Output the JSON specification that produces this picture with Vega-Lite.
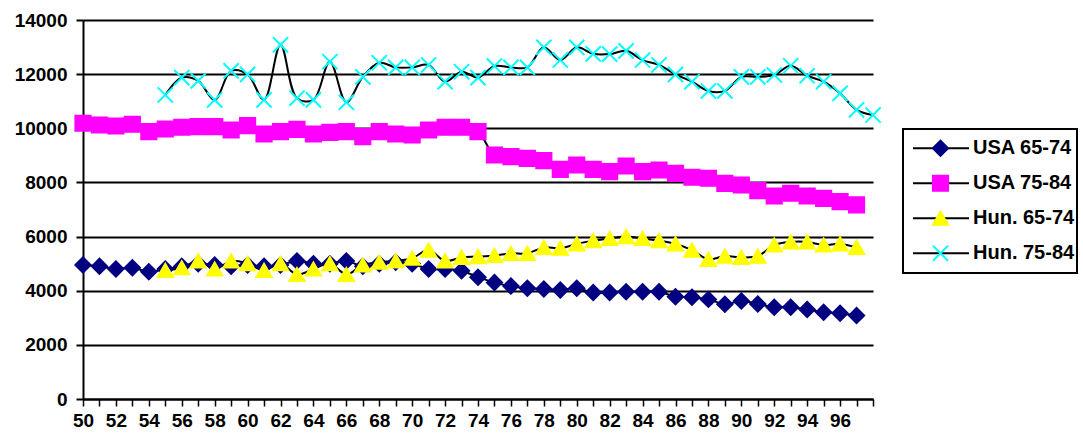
{
  "$schema": "https://vega.github.io/schema/vega-lite/v6.json",
  "width": 790,
  "height": 379,
  "autosize": {"type": "none"},
  "padding": {"left": 83, "top": 20, "right": 210, "bottom": 39},
  "background": "white",
  "config": {"view": {"stroke": null}, "font": "Liberation Sans"},
  "data": {"values": [
    {"year":50,"series":"USA 65-74","value":4950},{"year":51,"series":"USA 65-74","value":4900},{"year":52,"series":"USA 65-74","value":4800},{"year":53,"series":"USA 65-74","value":4850},{"year":54,"series":"USA 65-74","value":4700},{"year":55,"series":"USA 65-74","value":4800},{"year":56,"series":"USA 65-74","value":4900},{"year":57,"series":"USA 65-74","value":5000},{"year":58,"series":"USA 65-74","value":4950},{"year":59,"series":"USA 65-74","value":4900},{"year":60,"series":"USA 65-74","value":4950},{"year":61,"series":"USA 65-74","value":4900},{"year":62,"series":"USA 65-74","value":4950},{"year":63,"series":"USA 65-74","value":5100},{"year":64,"series":"USA 65-74","value":5000},{"year":65,"series":"USA 65-74","value":5000},{"year":66,"series":"USA 65-74","value":5100},{"year":67,"series":"USA 65-74","value":4900},{"year":68,"series":"USA 65-74","value":5000},{"year":69,"series":"USA 65-74","value":5050},{"year":70,"series":"USA 65-74","value":5000},{"year":71,"series":"USA 65-74","value":4800},{"year":72,"series":"USA 65-74","value":4800},{"year":73,"series":"USA 65-74","value":4740},{"year":74,"series":"USA 65-74","value":4500},{"year":75,"series":"USA 65-74","value":4300},{"year":76,"series":"USA 65-74","value":4170},{"year":77,"series":"USA 65-74","value":4090},{"year":78,"series":"USA 65-74","value":4060},{"year":79,"series":"USA 65-74","value":4030},{"year":80,"series":"USA 65-74","value":4090},{"year":81,"series":"USA 65-74","value":3930},{"year":82,"series":"USA 65-74","value":3930},{"year":83,"series":"USA 65-74","value":3960},{"year":84,"series":"USA 65-74","value":3960},{"year":85,"series":"USA 65-74","value":3960},{"year":86,"series":"USA 65-74","value":3780},{"year":87,"series":"USA 65-74","value":3760},{"year":88,"series":"USA 65-74","value":3680},{"year":89,"series":"USA 65-74","value":3500},{"year":90,"series":"USA 65-74","value":3620},{"year":91,"series":"USA 65-74","value":3510},{"year":92,"series":"USA 65-74","value":3390},{"year":93,"series":"USA 65-74","value":3390},{"year":94,"series":"USA 65-74","value":3310},{"year":95,"series":"USA 65-74","value":3200},{"year":96,"series":"USA 65-74","value":3170},{"year":97,"series":"USA 65-74","value":3080},
    {"year":50,"series":"USA 75-84","value":10185},{"year":51,"series":"USA 75-84","value":10122},{"year":52,"series":"USA 75-84","value":10085},{"year":53,"series":"USA 75-84","value":10148},{"year":54,"series":"USA 75-84","value":9875},{"year":55,"series":"USA 75-84","value":9974},{"year":56,"series":"USA 75-84","value":10037},{"year":57,"series":"USA 75-84","value":10061},{"year":58,"series":"USA 75-84","value":10061},{"year":59,"series":"USA 75-84","value":9937},{"year":60,"series":"USA 75-84","value":10098},{"year":61,"series":"USA 75-84","value":9790},{"year":62,"series":"USA 75-84","value":9875},{"year":63,"series":"USA 75-84","value":9962},{"year":64,"series":"USA 75-84","value":9790},{"year":65,"series":"USA 75-84","value":9852},{"year":66,"series":"USA 75-84","value":9875},{"year":67,"series":"USA 75-84","value":9690},{"year":68,"series":"USA 75-84","value":9875},{"year":69,"series":"USA 75-84","value":9790},{"year":70,"series":"USA 75-84","value":9753},{"year":71,"series":"USA 75-84","value":9937},{"year":72,"series":"USA 75-84","value":10037},{"year":73,"series":"USA 75-84","value":10037},{"year":74,"series":"USA 75-84","value":9875},{"year":75,"series":"USA 75-84","value":9013},{"year":76,"series":"USA 75-84","value":8951},{"year":77,"series":"USA 75-84","value":8891},{"year":78,"series":"USA 75-84","value":8803},{"year":79,"series":"USA 75-84","value":8485},{"year":80,"series":"USA 75-84","value":8644},{"year":81,"series":"USA 75-84","value":8485},{"year":82,"series":"USA 75-84","value":8398},{"year":83,"series":"USA 75-84","value":8607},{"year":84,"series":"USA 75-84","value":8398},{"year":85,"series":"USA 75-84","value":8459},{"year":86,"series":"USA 75-84","value":8337},{"year":87,"series":"USA 75-84","value":8190},{"year":88,"series":"USA 75-84","value":8153},{"year":89,"series":"USA 75-84","value":7968},{"year":90,"series":"USA 75-84","value":7905},{"year":91,"series":"USA 75-84","value":7695},{"year":92,"series":"USA 75-84","value":7500},{"year":93,"series":"USA 75-84","value":7599},{"year":94,"series":"USA 75-84","value":7500},{"year":95,"series":"USA 75-84","value":7414},{"year":96,"series":"USA 75-84","value":7290},{"year":97,"series":"USA 75-84","value":7168},
    {"year":55,"series":"Hun. 65-74","value":4750},{"year":56,"series":"Hun. 65-74","value":4850},{"year":57,"series":"Hun. 65-74","value":5100},{"year":58,"series":"Hun. 65-74","value":4800},{"year":59,"series":"Hun. 65-74","value":5100},{"year":60,"series":"Hun. 65-74","value":5000},{"year":61,"series":"Hun. 65-74","value":4750},{"year":62,"series":"Hun. 65-74","value":5000},{"year":63,"series":"Hun. 65-74","value":4600},{"year":64,"series":"Hun. 65-74","value":4800},{"year":65,"series":"Hun. 65-74","value":5000},{"year":66,"series":"Hun. 65-74","value":4600},{"year":67,"series":"Hun. 65-74","value":4950},{"year":68,"series":"Hun. 65-74","value":5050},{"year":69,"series":"Hun. 65-74","value":5100},{"year":70,"series":"Hun. 65-74","value":5200},{"year":71,"series":"Hun. 65-74","value":5500},{"year":72,"series":"Hun. 65-74","value":5100},{"year":73,"series":"Hun. 65-74","value":5230},{"year":74,"series":"Hun. 65-74","value":5260},{"year":75,"series":"Hun. 65-74","value":5300},{"year":76,"series":"Hun. 65-74","value":5380},{"year":77,"series":"Hun. 65-74","value":5380},{"year":78,"series":"Hun. 65-74","value":5600},{"year":79,"series":"Hun. 65-74","value":5570},{"year":80,"series":"Hun. 65-74","value":5730},{"year":81,"series":"Hun. 65-74","value":5850},{"year":82,"series":"Hun. 65-74","value":5930},{"year":83,"series":"Hun. 65-74","value":6000},{"year":84,"series":"Hun. 65-74","value":5930},{"year":85,"series":"Hun. 65-74","value":5850},{"year":86,"series":"Hun. 65-74","value":5730},{"year":87,"series":"Hun. 65-74","value":5500},{"year":88,"series":"Hun. 65-74","value":5160},{"year":89,"series":"Hun. 65-74","value":5280},{"year":90,"series":"Hun. 65-74","value":5230},{"year":91,"series":"Hun. 65-74","value":5280},{"year":92,"series":"Hun. 65-74","value":5690},{"year":93,"series":"Hun. 65-74","value":5800},{"year":94,"series":"Hun. 65-74","value":5800},{"year":95,"series":"Hun. 65-74","value":5690},{"year":96,"series":"Hun. 65-74","value":5730},{"year":97,"series":"Hun. 65-74","value":5600},
    {"year":55,"series":"Hun. 75-84","value":11230},{"year":56,"series":"Hun. 75-84","value":11870},{"year":57,"series":"Hun. 75-84","value":11750},{"year":58,"series":"Hun. 75-84","value":11050},{"year":59,"series":"Hun. 75-84","value":12120},{"year":60,"series":"Hun. 75-84","value":11990},{"year":61,"series":"Hun. 75-84","value":11050},{"year":62,"series":"Hun. 75-84","value":13080},{"year":63,"series":"Hun. 75-84","value":11110},{"year":64,"series":"Hun. 75-84","value":11050},{"year":65,"series":"Hun. 75-84","value":12460},{"year":66,"series":"Hun. 75-84","value":10960},{"year":67,"series":"Hun. 75-84","value":11900},{"year":68,"series":"Hun. 75-84","value":12420},{"year":69,"series":"Hun. 75-84","value":12250},{"year":70,"series":"Hun. 75-84","value":12250},{"year":71,"series":"Hun. 75-84","value":12340},{"year":72,"series":"Hun. 75-84","value":11720},{"year":73,"series":"Hun. 75-84","value":12090},{"year":74,"series":"Hun. 75-84","value":11870},{"year":75,"series":"Hun. 75-84","value":12300},{"year":76,"series":"Hun. 75-84","value":12250},{"year":77,"series":"Hun. 75-84","value":12250},{"year":78,"series":"Hun. 75-84","value":12990},{"year":79,"series":"Hun. 75-84","value":12520},{"year":80,"series":"Hun. 75-84","value":12990},{"year":81,"series":"Hun. 75-84","value":12750},{"year":82,"series":"Hun. 75-84","value":12740},{"year":83,"series":"Hun. 75-84","value":12860},{"year":84,"series":"Hun. 75-84","value":12520},{"year":85,"series":"Hun. 75-84","value":12340},{"year":86,"series":"Hun. 75-84","value":11990},{"year":87,"series":"Hun. 75-84","value":11720},{"year":88,"series":"Hun. 75-84","value":11380},{"year":89,"series":"Hun. 75-84","value":11380},{"year":90,"series":"Hun. 75-84","value":11900},{"year":91,"series":"Hun. 75-84","value":11900},{"year":92,"series":"Hun. 75-84","value":11970},{"year":93,"series":"Hun. 75-84","value":12310},{"year":94,"series":"Hun. 75-84","value":11940},{"year":95,"series":"Hun. 75-84","value":11720},{"year":96,"series":"Hun. 75-84","value":11290},{"year":97,"series":"Hun. 75-84","value":10680},{"year":98,"series":"Hun. 75-84","value":10490}
  ]},
  "encoding": {
    "x": {
      "field": "year", "type": "quantitative",
      "scale": {"domain": [50, 98], "nice": false, "zero": false},
      "axis": {
        "values": [50,51,52,53,54,55,56,57,58,59,60,61,62,63,64,65,66,67,68,69,70,71,72,73,74,75,76,77,78,79,80,81,82,83,84,85,86,87,88,89,90,91,92,93,94,95,96,97,98],
        "labelExpr": "datum.value % 2 == 0 && datum.value <= 96 ? datum.label : ''",
        "title": null, "grid": false,
        "domainColor": "black", "domainWidth": 2,
        "tickColor": "black", "tickWidth": 1.5, "tickSize": 7,
        "labelFont": "Liberation Sans", "labelFontWeight": "bold", "labelFontSize": 19, "labelColor": "black",
        "labelPadding": 5, "labelFlush": false, "labelOverlap": false, "labelBound": false
      }
    },
    "y": {
      "field": "value", "type": "quantitative",
      "scale": {"domain": [0, 14000], "nice": false},
      "axis": {
        "values": [0,2000,4000,6000,8000,10000,12000,14000],
        "format": "d",
        "title": null, "grid": true, "gridColor": "black", "gridWidth": 2, "gridOpacity": 1,
        "domainColor": "black", "domainWidth": 2,
        "tickColor": "black", "tickWidth": 2, "tickSize": 7,
        "labelFont": "Liberation Sans", "labelFontWeight": "bold", "labelFontSize": 19, "labelColor": "black",
        "labelPadding": 9
      }
    }
  },
  "layer": [
    {
      "mark": {"type": "line", "interpolate": "catmull-rom", "strokeWidth": 2},
      "encoding": {
        "color": {
          "field": "series", "type": "nominal",
          "sort": ["USA 65-74", "USA 75-84", "Hun. 65-74", "Hun. 75-84"],
          "scale": {"range": ["black", "black", "black", "black"]},
          "legend": {
            "title": null, "orient": "none", "legendX": 820, "legendY": 109,
            "symbolType": "stroke", "symbolSize": 3136, "symbolStrokeWidth": 2, "symbolOffset": 7,
            "clipHeight": 34.5, "rowPadding": 0, "padding": 2, "strokeColor": "black",
            "labelFont": "Liberation Sans", "labelFontWeight": "bold", "labelFontSize": 20, "labelColor": "black",
            "labelOffset": 3, "labelLimit": 300, "zindex": 0,
            "encode": {"legend": {"update": {"strokeWidth": {"value": 2}}}}
          }
        }
      }
    },
    {
      "mark": {"type": "point", "filled": true, "size": 230, "strokeWidth": 2, "opacity": 1},
      "encoding": {
        "fill": {
          "field": "series", "type": "nominal",
          "scale": {"domain": ["USA 65-74", "USA 75-84", "Hun. 65-74", "Hun. 75-84"], "range": ["#000080", "#FF00FF", "#FFFF00", "#00FFFF"]},
          "legend": {
            "title": null, "orient": "none", "legendX": 845.5, "legendY": 109,
            "symbolSize": 230, "symbolStrokeWidth": 2,
            "clipHeight": 34.5, "rowPadding": 0, "padding": 2,
            "labelFont": "Liberation Sans", "labelFontWeight": "bold", "labelFontSize": 20,
            "labelExpr": "''",
            "zindex": 1
          }
        },
        "stroke": {
          "field": "series", "type": "nominal",
          "scale": {"domain": ["USA 65-74", "USA 75-84", "Hun. 65-74", "Hun. 75-84"], "range": ["#000080", "#FF00FF", "#FFFF00", "#00FFFF"]}
        },
        "shape": {
          "field": "series", "type": "nominal",
          "scale": {"domain": ["USA 65-74", "USA 75-84", "Hun. 65-74", "Hun. 75-84"], "range": ["diamond", "square", "triangle-up", "M-1,-1L1,1M-1,1L1,-1"]}
        }
      }
    }
  ]
}
